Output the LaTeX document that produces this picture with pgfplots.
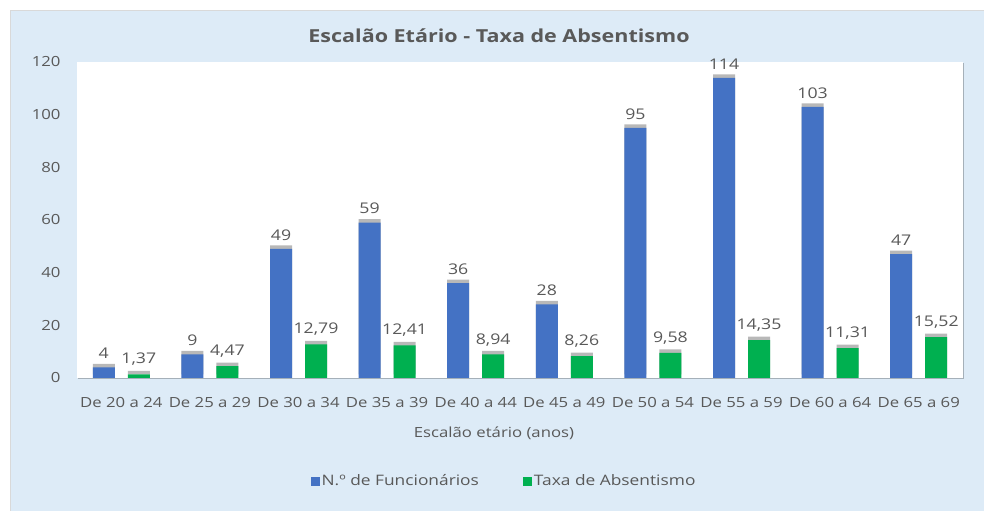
\documentclass[border=0pt]{standalone}
\usepackage{fontspec}
\setmainfont{Open Sans}[FakeStretch=1.2]
\usepackage{pgfplots}
\pgfplotsset{compat=1.18}
\usetikzlibrary{shadows}

\definecolor{panelbg}{HTML}{DDEBF7}
\definecolor{barblue}{HTML}{4472C4}
\definecolor{bargreen}{HTML}{00B050}
\definecolor{txtgray}{HTML}{595959}

\begin{document}
\begin{tikzpicture}[x=1bp,y=1bp]
\path[use as bounding box] (0,0) rectangle (984,511);
\fill[white] (0,0) rectangle (984,511);
\filldraw[fill=panelbg, draw=black!15] (10,-2) rectangle (986,501);
\node[font=\bfseries\fontsize{18}{20}\selectfont, text=txtgray] at (499,475) {Escalão Etário - Taxa de Absentismo};
\node[font=\fontsize{14}{16}\selectfont, text=txtgray] at (494,78) {Escalão etário (anos)};

\begin{axis}[
    at={(77bp,133bp)}, anchor=south west,
    scale only axis, width=886bp, height=316bp,
    axis background/.style={fill=white, drop shadow={shadow xshift=1.2bp, shadow yshift=-1.2bp, opacity=0.25, fill=black}},
    ybar, bar width=22bp,
    xmin=-0.5, xmax=9.5, ymin=0, ymax=120,
    ytick={0,20,...,120},
    xtick={0,...,9},
    xticklabels={De 20 a 24,De 25 a 29,De 30 a 34,De 35 a 39,De 40 a 44,De 45 a 49,De 50 a 54,De 55 a 59,De 60 a 64,De 65 a 69},
    axis line style={draw=none},
    major tick length=0pt,
    /pgf/number format/assume math mode=true,
    tick label style={font=\fontsize{14}{16}\selectfont, text=txtgray},
    yticklabel shift=13bp,
    xticklabel shift=16bp,
    clip=false,
    every node near coord/.append style={font=\fontsize{14.8}{16}\selectfont, text=txtgray, yshift=5bp},
    legend columns=2,
    legend style={draw=none, fill=none, at={(0.482,-0.326)}, anchor=center,
        font=\fontsize{14.5}{16}\selectfont, text=txtgray,
        /tikz/column 2/.style={column sep=42bp}},
    legend image code/.code={\fill[#1] (0bp,-4.5bp) rectangle (9bp,4.5bp);},
]
\addplot[forget plot, bar shift=-17.5bp, fill=barblue, draw=none,
    drop shadow={shadow xshift=0bp, shadow yshift=3.5bp, opacity=0.28, fill=black},
    nodes near coords={\pgfmathprintnumber[fixed,precision=0]{\pgfplotspointmeta}}]
coordinates {(0,4) (1,9) (2,49) (3,59) (4,36) (5,28) (6,95) (7,114) (8,103) (9,47)};
\addplot[forget plot, bar shift=17.5bp, fill=bargreen, draw=none,
    drop shadow={shadow xshift=0bp, shadow yshift=3.5bp, opacity=0.28, fill=black},
    nodes near coords={\pgfmathprintnumber[fixed,zerofill,precision=2,use comma]{\pgfplotspointmeta}}]
coordinates {(0,1.37) (1,4.47) (2,12.79) (3,12.41) (4,8.94) (5,8.26) (6,9.58) (7,14.35) (8,11.31) (9,15.52)};
\addlegendimage{fill=barblue, draw=none}
\addlegendentry{N.º de Funcionários}
\addlegendimage{fill=bargreen, draw=none}
\addlegendentry{Taxa de Absentismo}
\end{axis}
\end{tikzpicture}
\end{document}
